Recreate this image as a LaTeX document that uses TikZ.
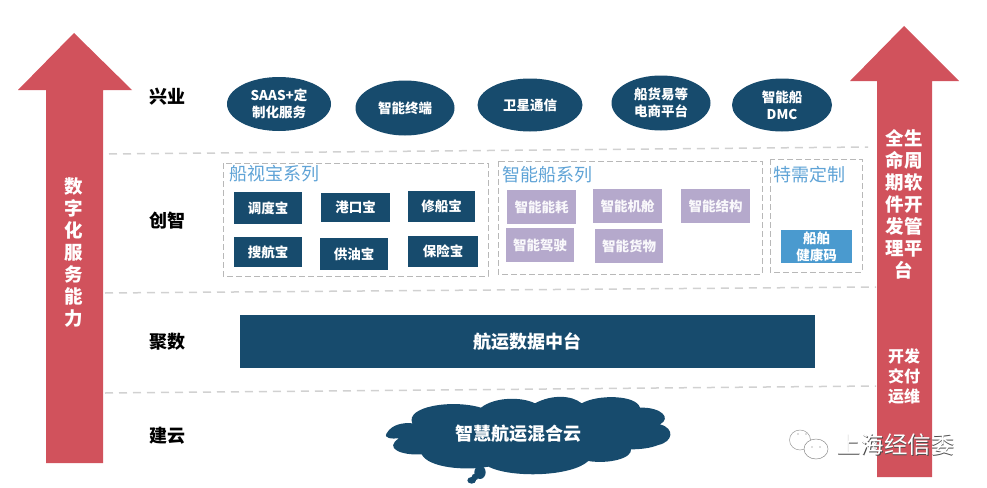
\documentclass[tikz,border=0pt]{standalone}
\usepackage{fontspec}
\setmainfont{Noto Sans CJK SC}
\usetikzlibrary{shapes.geometric}
\definecolor{navy}{HTML}{174B6D}
\definecolor{redarrow}{HTML}{D1525C}
\definecolor{lilac}{HTML}{B5A9CC}
\definecolor{skyb}{HTML}{4A9ACF}
\definecolor{titleb}{HTML}{5FA3D6}
\tikzset{
  base/.style={inner sep=0pt,align=center,text=white,font=\fontsize{13.5}{17}\selectfont\bfseries},
  oval/.style={base,ellipse,fill=navy},
  navybox/.style={base,fill=navy},
  lilacbox/.style={base,fill=lilac,text=white!92!lilac},
  skybox/.style={base,fill=skyb},
  rowlabel/.style={inner sep=0pt,text=black,font=\fontsize{18}{20}\selectfont\bfseries},
  sertitle/.style={inner sep=0pt,anchor=west,text=titleb,font=\fontsize{18}{20}\selectfont},
  sep/.style={draw=black!18,line width=1.5pt,dash pattern=on 8pt off 6pt},
  group/.style={draw=black!28,line width=0.7pt,dash pattern=on 6pt off 3pt},
  arrowtxt/.style={inner sep=0pt,align=center,text=white,font=\fontsize{18.5}{22}\selectfont\bfseries},
  cloudfill/.style={fill=navy,draw=none},
}
\begin{document}
\begin{tikzpicture}[x=1pt,y=-1pt]
\useasboundingbox (0,0) rectangle (987,487);
% separators
\coordinate (s1a) at (109,154); \coordinate (s1b) at (868,147);
\coordinate (s2a) at (105,293); \coordinate (s2b) at (876,287);
\coordinate (s3a) at (105,393); \coordinate (s3b) at (876,386);
\draw[sep] (s1a) -- (s1b);
\draw[sep] (s2a) -- (s2b);
\draw[sep] (s3a) -- (s3b);
% arrows
\fill[redarrow] (74,33) -- (132,90) -- (103,90) -- (103,463) -- (46,463) -- (46,90) -- (18,90) -- cycle;
\fill[redarrow] (904,26) -- (959,81) -- (932,81) -- (932,477) -- (877,477) -- (877,81) -- (850,81) -- cycle;
\node[arrowtxt] (lefttxt) at (74,253) {数\\字\\化\\服\\务\\能\\力};
\node[arrowtxt] (righttxt) at (904,204) {全生\\命周\\期软\\件开\\发管\\理平\\台};
\node[arrowtxt,font=\fontsize{16}{20}\selectfont\bfseries] (righttxt2) at (904,376) {开发\\交付\\运维};
% row labels
\node[rowlabel] (r1) at (167,97) {兴业};
\node[rowlabel] (r2) at (167,221) {创智};
\node[rowlabel] (r3) at (167,342) {聚数};
\node[rowlabel] (r4) at (167,436) {建云};
% ovals
\node[oval,minimum width=104pt,minimum height=54pt] (o1) at (279,104) {SAAS+定\\制化服务};
\node[oval,minimum width=99pt,minimum height=55pt] (o2) at (405,108) {智能终端};
\node[oval,minimum width=105pt,minimum height=53pt] (o3) at (530,105) {卫星通信};
\node[oval,minimum width=99pt,minimum height=55pt] (o4) at (661,103) {船货易等\\电商平台};
\node[oval,minimum width=100pt,minimum height=53pt] (o5) at (782,105) {智能船\\DMC};
% groups
\draw[group] (223,163) rectangle (488,276);
\draw[group] (498,161) rectangle (762,274);
\draw[group] (770,159) rectangle (862,272);
\node[sertitle] (t1) at (229,174) {船视宝系列};
\node[sertitle] (t2) at (502,175) {智能船系列};
\node[sertitle] (t3) at (773,175) {特需定制};
% navy boxes
\node[navybox,minimum width=68pt,minimum height=32pt] (b1) at (268,208) {调度宝};
\node[navybox,minimum width=69pt,minimum height=29pt] (b2) at (355.5,207.5) {港口宝};
\node[navybox,minimum width=67pt,minimum height=31pt] (b3) at (441.5,206.5) {修船宝};
\node[navybox,minimum width=68pt,minimum height=30pt] (b4) at (268,252) {搜航宝};
\node[navybox,minimum width=68pt,minimum height=32pt] (b5) at (354,254) {供油宝};
\node[navybox,minimum width=70pt,minimum height=31pt] (b6) at (443,251.5) {保险宝};
% lilac boxes
\node[lilacbox,minimum width=69pt,minimum height=34pt] (p1) at (541.5,207) {智能能耗};
\node[lilacbox,minimum width=69pt,minimum height=34pt] (p2) at (627.5,206) {智能机舱};
\node[lilacbox,minimum width=69pt,minimum height=34pt] (p3) at (715.5,206) {智能结构};
\node[lilacbox,minimum width=68pt,minimum height=34pt] (p4) at (540,245) {智能驾驶};
\node[lilacbox,minimum width=68pt,minimum height=34pt] (p5) at (629,246) {智能货物};
\node[skybox,minimum width=71pt,minimum height=33pt] (c1) at (816.5,246.5) {船舶\\健康码};
% data bar
\node[navybox,minimum width=575pt,minimum height=53pt,font=\fontsize{18}{20}\selectfont\bfseries] (bar) at (527.5,341.5) {航运数据中台};
% cloud
\begin{scope}[shift={(375,395)},x=0.3333pt,y=-0.3333pt]
\fill[cloudfill] (35,115) .. controls (50,88) and (85,82) .. (112,85)
  .. controls (90,35) and (230,12) .. (318,38)
  .. controls (360,5) and (440,5) .. (480,25)
  .. controls (530,-2) and (590,0) .. (620,25)
  .. controls (670,-3) and (785,0) .. (795,38)
  .. controls (860,36) and (890,70) .. (855,88)
  .. controls (900,100) and (895,140) .. (850,150)
  .. controls (825,160) and (795,163) .. (768,163)
  .. controls (772,190) and (700,208) .. (640,198)
  .. controls (590,245) and (410,250) .. (340,215)
  .. controls (270,228) and (160,218) .. (140,178)
  .. controls (80,182) and (25,160) .. (72,130)
  .. controls (50,132) and (25,130) .. (35,115) -- cycle;
\fill[cloudfill] (315,232) ellipse [x radius=17,y radius=20];
\fill[cloudfill] (290,256) ellipse [x radius=13,y radius=10];
\fill[cloudfill] (300,246) circle (10);
\end{scope}
\node[base,font=\fontsize{18}{20}\selectfont\bfseries] (cloud) at (518.5,434) {智慧航运混合云};
% watermark
\draw[black!40,fill=white,line width=0.5pt] (800,440) ellipse [x radius=10.5,y radius=10];
\draw[black!45,fill=white,line width=0.5pt] (816,449) ellipse [x radius=12,y radius=10];
\fill[black!55] (812,447) circle (0.7) (820,447) circle (0.7) (798,434) circle (0.7) (806,434) circle (0.7);
\node[inner sep=0pt,text=black!70,font=\fontsize{23.5}{26}\selectfont] (wm0) at (896.7,445.7) {上海经信委};
\node[inner sep=0pt,text=white,font=\fontsize{23.5}{26}\selectfont] (wm) at (896,445) {上海经信委};
\end{tikzpicture}
\end{document}
